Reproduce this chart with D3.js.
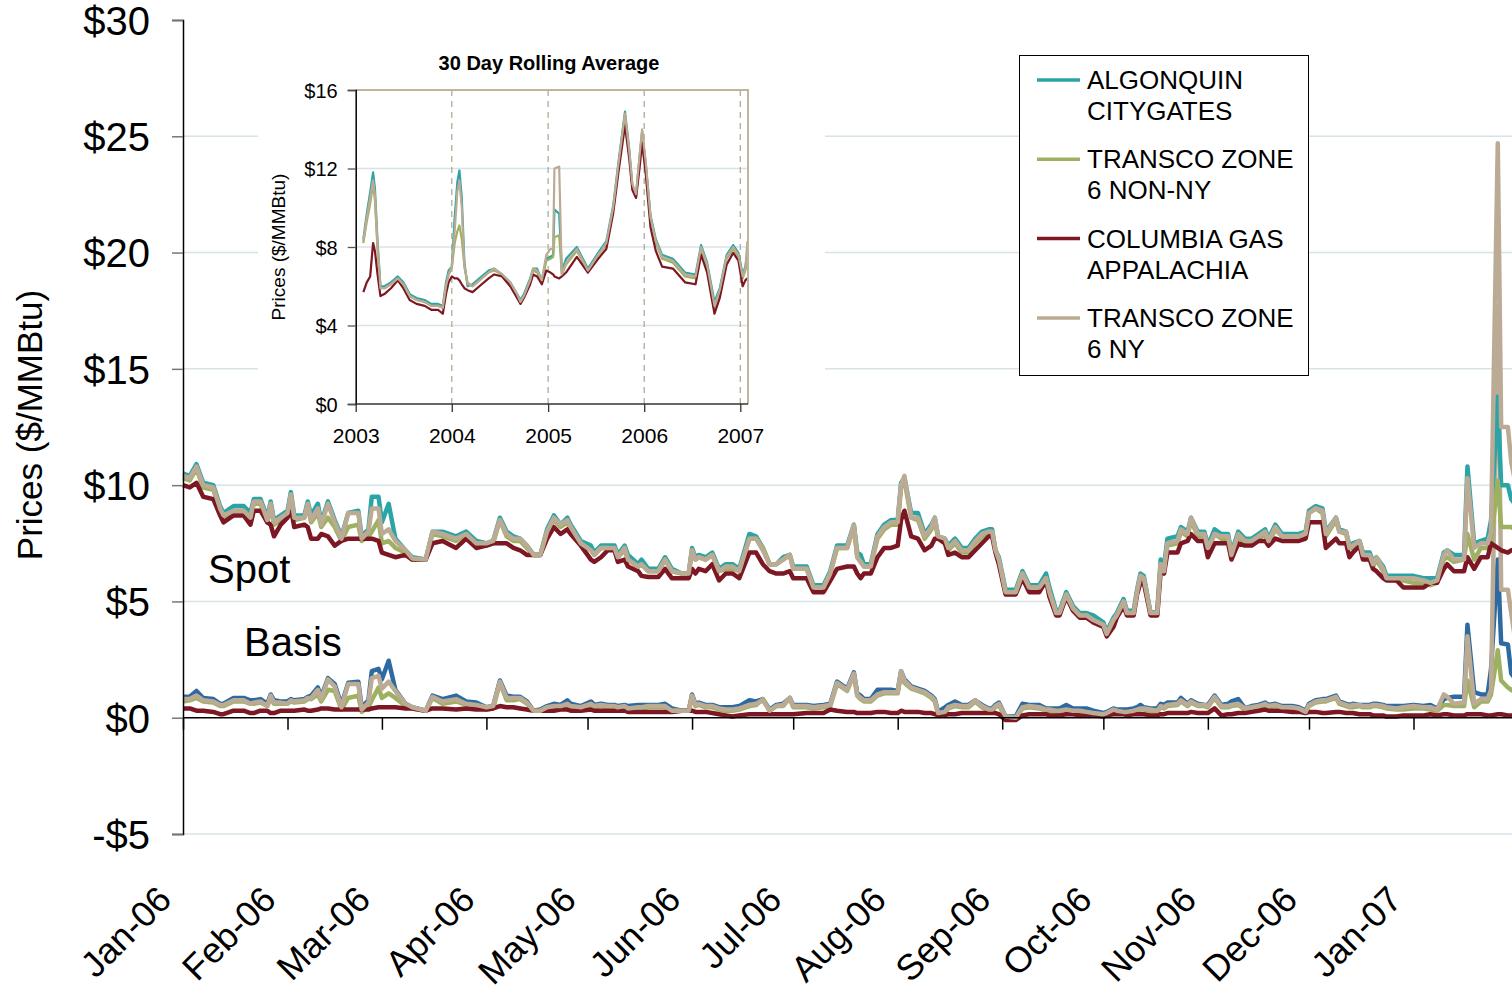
<!DOCTYPE html>
<html>
<head>
<meta charset="utf-8">
<script src="https://cdn.jsdelivr.net/npm/d3@7"></script>
<style>
  body { margin: 0; background: #fff; }
  text { font-family: Arial, "Liberation Sans", sans-serif; }
</style>
</head>
<body>
<svg id="chart" width="1512" height="995"></svg>
<script>
// ---- main chart data: days since 2006-01-01, daily prices in $/MMBtu ----
var dayOffsets = [
  0,2,4,6,9,11,12,15,18,20,21,23,25,26,27,29,
  31,32,33,36,37,38,40,41,43,45,47,49,52,53,55,56,58,
  59,61,63,66,68,72,74,77,81,84,87,
  90,92,94,96,98,100,102,104,106,108,110,112,114,115,118,
  121,122,124,126,128,129,131,132,135,136,138,141,143,145,148,150,
  151,152,153,155,157,159,161,163,165,168,170,172,174,176,178,180,
  181,185,187,190,192,194,197,199,200,201,202,204,206,208,210,
  212,213,214,216,218,220,222,223,224,226,227,229,231,233,235,237,239,240,241,242,
  244,247,249,251,254,256,257,259,260,262,264,266,268,270,
  273,274,276,277,279,280,282,283,284,285,287,289,290,291,292,295,296,298,299,301,303,
  304,306,308,310,311,313,315,317,319,321,322,324,326,329,331,333,
  334,336,338,339,342,343,345,346,347,349,350,352,353,354,356,357,360,362,
  365,368,370,372,374,375,377,380,381,383,385,387,388,390,391,393,394,396
]

var algonquinSpot = [
  10.5,10.4,10.9,10.1,10.0,9.1,8.8,9.1,9.1,8.8,9.4,9.4,8.6,9.3,8.5,8.7,
  8.9,9.7,8.7,8.7,9.3,8.7,9.2,8.4,9.3,8.5,7.8,8.8,8.9,7.8,8.1,9.5,9.5,
  8.4,9.2,7.7,7.2,6.9,6.8,8.0,8.0,7.8,8.0,7.6,
  7.5,7.6,8.6,8.0,7.8,7.7,7.4,7.0,7.0,8.1,8.7,8.3,8.6,8.3,7.6,
  7.4,7.1,7.4,7.4,7.4,7.0,7.4,7.0,6.6,6.8,6.4,6.4,6.9,6.4,6.2,6.2,
  7.3,6.9,7.0,6.9,7.1,6.4,6.6,6.6,6.4,7.9,7.8,7.3,6.6,6.6,6.9,7.0,
  6.5,6.5,5.7,5.7,6.3,7.4,7.4,8.3,7.1,7.0,6.6,6.6,7.9,8.3,8.5,
  8.5,10.1,10.3,8.8,8.8,7.9,8.3,8.6,7.8,7.7,7.4,7.7,7.3,7.3,7.7,8.0,8.1,8.1,7.2,6.9,
  5.5,5.5,6.3,5.7,5.7,6.2,5.6,4.6,4.6,5.4,4.8,4.5,4.5,4.4,
  4.1,3.7,4.3,4.5,5.1,4.6,4.6,5.5,6.2,6.1,4.5,4.6,6.8,6.5,7.7,7.8,8.2,8.0,8.6,8.0,8.0,
  7.4,8.1,7.9,7.9,7.1,8.0,7.7,7.7,7.9,8.1,7.7,8.3,7.9,7.9,7.9,8.0,
  8.9,9.1,9.0,8.0,8.6,8.1,8.0,7.4,7.5,7.6,7.1,7.1,6.7,6.9,6.5,6.1,6.1,6.1,
  6.1,6.0,6.0,6.0,7.1,7.2,7.0,7.0,10.8,7.5,7.6,7.7,8.5,13.8,10.0,10.0,9.4,9.0
]
var nonNYSpot = [
  10.3,10.2,10.7,9.9,9.8,8.9,8.6,8.9,8.9,8.6,9.2,9.2,8.4,9.1,8.3,8.5,
  8.7,9.5,8.5,8.6,9.1,8.4,8.8,8.2,8.6,8.2,7.6,8.2,8.3,7.6,7.8,8.0,8.5,
  7.5,7.6,7.3,7.1,6.8,6.8,7.9,7.8,7.6,7.9,7.4,
  7.4,7.5,8.5,7.8,7.6,7.6,7.3,7.0,7.0,8.0,8.5,8.2,8.4,8.1,7.5,
  7.2,7.0,7.3,7.3,7.2,6.9,7.2,6.8,6.5,6.6,6.3,6.3,6.8,6.3,6.2,6.2,
  7.2,6.8,6.9,6.8,7.0,6.3,6.4,6.4,6.3,7.7,7.7,7.3,6.6,6.6,6.8,7.0,
  6.4,6.4,5.6,5.6,6.2,7.3,7.3,8.2,6.9,6.7,6.5,6.5,7.7,8.1,8.3,
  8.3,9.9,10.2,8.6,8.5,7.7,8.1,8.5,7.7,7.6,7.2,7.5,7.1,7.1,7.5,7.8,8.0,8.0,7.2,6.8,
  5.4,5.4,6.2,5.6,5.6,6.0,5.4,4.5,4.5,5.3,4.7,4.4,4.4,4.2,
  4.0,3.6,4.2,4.4,5.0,4.5,4.5,5.4,6.1,6.0,4.5,4.5,6.6,6.3,7.4,7.5,8.0,7.8,8.5,7.8,7.8,
  7.2,7.9,7.7,7.7,7.0,7.8,7.5,7.5,7.7,7.9,7.5,8.1,7.8,7.8,7.8,7.9,
  8.8,9.0,8.8,7.8,8.5,8.0,7.9,7.3,7.3,7.5,7.0,6.9,6.5,6.8,6.3,6.0,5.9,5.9,
  5.8,5.8,5.7,5.8,6.8,6.9,6.7,6.8,7.9,6.8,7.3,7.3,7.6,10.2,8.2,8.2,8.2,8.0
]
var columbiaSpot = [
  10.0,9.9,10.1,9.5,9.4,8.7,8.4,8.7,8.7,8.3,8.9,8.9,8.4,8.3,7.8,8.3,
  8.6,9.0,8.2,8.3,8.2,7.7,7.7,7.9,7.8,7.4,7.6,7.7,7.7,7.7,7.7,7.7,7.6,
  7.1,7.0,6.9,7.0,6.8,6.8,7.5,7.6,7.3,7.7,7.3,
  7.4,7.5,7.5,7.5,7.3,7.2,7.0,7.0,7.0,7.7,8.2,7.9,8.1,7.9,7.4,
  6.8,6.7,6.9,7.2,7.2,6.7,6.8,6.5,6.3,6.1,6.05,6.05,6.4,6.0,6.0,6.0,
  6.4,6.2,6.4,6.3,6.6,5.9,6.2,6.2,6.0,7.1,7.1,6.6,6.3,6.2,6.2,6.3,
  6.0,6.0,5.4,5.4,5.9,6.4,6.5,6.5,6.2,6.0,6.2,6.2,6.9,7.3,7.3,
  7.4,8.5,8.9,7.8,7.7,7.2,7.4,7.7,7.7,7.5,7.0,7.1,6.9,6.9,7.2,7.5,7.8,7.8,7.1,6.6,
  5.3,5.3,6.0,5.4,5.4,5.9,5.2,4.4,4.4,5.2,4.6,4.3,4.3,4.1,
  3.9,3.5,3.9,4.3,4.8,4.4,4.4,5.3,5.8,5.8,4.4,4.4,6.3,6.2,7.1,7.1,7.5,7.6,7.9,7.6,7.6,
  6.9,7.5,7.5,7.5,6.8,7.5,7.4,7.4,7.6,7.6,7.4,7.7,7.6,7.6,7.6,7.7,
  8.4,8.4,8.4,7.3,7.7,7.5,7.5,6.9,7.1,7.4,6.8,6.8,6.4,6.3,6.0,5.9,5.9,5.6,
  5.6,5.6,5.8,5.8,6.4,6.6,6.3,6.3,6.9,6.4,6.9,6.9,7.5,7.3,7.2,7.1,7.2,7.3
]
var nySpot = [
  10.4,10.3,10.8,10.0,9.9,9.0,8.7,8.9,8.9,8.6,9.3,9.3,8.5,9.2,8.4,8.6,
  8.8,9.6,8.6,8.6,9.2,8.5,9.0,8.3,9.2,8.4,7.7,8.8,8.8,7.7,8.0,9.0,9.0,
  7.9,8.1,7.6,7.2,6.85,6.8,8.0,7.9,7.7,7.9,7.5,
  7.5,7.6,8.5,7.9,7.7,7.7,7.4,7.0,7.0,8.0,8.6,8.3,8.5,8.2,7.5,
  7.2,7.0,7.3,7.3,7.3,6.9,7.3,6.8,6.5,6.6,6.3,6.3,6.8,6.3,6.2,6.2,
  7.2,6.8,6.9,6.8,7.0,6.3,6.5,6.5,6.3,7.7,7.7,7.2,6.6,6.6,6.8,7.0,
  6.4,6.4,5.6,5.6,6.2,7.3,7.3,8.3,6.9,6.7,6.5,6.5,7.8,8.2,8.4,
  8.4,10.0,10.4,8.6,8.6,7.8,8.2,8.6,7.8,7.7,7.3,7.6,7.2,7.2,7.6,7.9,8.0,8.0,7.2,6.8,
  5.4,5.4,6.2,5.6,5.6,6.0,5.4,4.5,4.5,5.3,4.7,4.4,4.4,4.2,
  4.0,3.6,4.2,4.4,5.0,4.5,4.5,5.4,6.1,6.0,4.5,4.5,6.6,6.3,7.5,7.6,8.1,7.9,8.6,7.9,7.9,
  7.3,7.9,7.8,7.8,7.0,7.9,7.6,7.6,7.8,8.0,7.6,8.2,7.8,7.8,7.8,7.9,
  8.8,9.0,8.9,7.9,8.6,8.0,8.0,7.3,7.4,7.6,7.0,7.0,6.6,6.9,6.4,6.0,6.0,6.0,
  6.0,5.9,5.8,5.9,7.0,7.2,6.8,6.8,10.3,7.3,7.5,7.5,8.0,24.7,12.5,12.5,11.0,9.5
]

var algonquinBasis = [
  0.9,0.9,1.15,0.85,0.8,0.6,0.6,0.85,0.85,0.75,0.75,0.8,0.6,1.0,0.75,0.7,
  0.7,0.8,0.75,0.8,0.9,0.95,1.3,0.9,1.7,1.45,0.55,1.5,1.55,0.45,0.75,2.0,2.1,
  1.65,2.45,1.2,0.6,0.45,0.3,0.95,0.8,0.95,0.7,0.65,
  0.45,0.5,1.6,0.95,0.9,0.9,0.7,0.3,0.35,0.5,0.6,0.55,0.75,0.6,0.5,
  0.7,0.55,0.6,0.55,0.55,0.5,0.55,0.5,0.55,0.55,0.55,0.55,0.6,0.4,0.3,0.3,
  1.0,0.6,0.65,0.55,0.55,0.45,0.45,0.45,0.5,0.75,0.7,0.8,0.35,0.55,0.6,0.85,
  0.55,0.55,0.5,0.55,0.6,1.55,1.25,1.95,1.05,0.95,0.8,0.8,1.2,1.2,1.2,
  1.15,2.0,1.65,1.35,1.25,1.15,0.95,0.8,0.25,0.45,0.55,0.7,0.55,0.55,0.75,0.55,0.4,0.4,0.55,0.65,
  0.05,0.05,0.6,0.55,0.55,0.4,0.4,0.4,0.4,0.55,0.4,0.4,0.4,0.3,
  0.2,0.25,0.4,0.35,0.35,0.35,0.4,0.45,0.55,0.45,0.4,0.4,0.6,0.55,0.65,0.65,0.85,0.6,0.75,0.6,0.55,
  0.55,0.95,0.55,0.6,0.7,0.8,0.4,0.5,0.55,0.65,0.55,0.6,0.5,0.5,0.45,0.3,
  0.6,0.75,0.8,0.8,0.95,0.7,0.6,0.55,0.6,0.55,0.55,0.55,0.6,0.6,0.55,0.5,0.5,0.5,
  0.55,0.5,0.55,0.4,0.8,0.85,0.9,0.9,4.0,1.1,1.0,1.0,2.1,6.8,3.2,3.15,1.9,1.5
]
var nonNYBasis = [
  0.7,0.75,0.85,0.7,0.65,0.5,0.5,0.7,0.7,0.6,0.6,0.65,0.5,0.85,0.6,0.6,
  0.6,0.7,0.65,0.7,0.8,0.8,1.0,0.7,1.2,1.15,0.35,0.85,0.95,0.25,0.45,0.75,1.3,
  0.85,1.05,0.85,0.5,0.4,0.3,0.85,0.6,0.7,0.55,0.45,
  0.35,0.4,1.5,0.75,0.75,0.8,0.6,0.3,0.3,0.45,0.45,0.45,0.55,0.45,0.4,
  0.55,0.45,0.5,0.45,0.45,0.4,0.45,0.35,0.4,0.4,0.45,0.45,0.45,0.3,0.3,0.3,
  0.9,0.5,0.55,0.45,0.45,0.35,0.3,0.3,0.35,0.5,0.55,0.8,0.3,0.5,0.5,0.85,
  0.45,0.45,0.4,0.45,0.5,1.45,1.15,1.85,0.95,0.8,0.7,0.7,0.95,1.05,1.05,
  1.05,1.9,1.5,1.25,1.15,1.05,0.85,0.7,0.15,0.2,0.4,0.5,0.45,0.45,0.7,0.45,0.3,0.3,0.45,0.55,
  0.0,-0.05,0.4,0.45,0.4,0.3,0.3,0.25,0.25,0.3,0.25,0.25,0.2,0.15,
  0.1,0.15,0.3,0.25,0.2,0.2,0.25,0.3,0.35,0.35,0.3,0.25,0.45,0.4,0.5,0.55,0.7,0.5,0.65,0.5,0.5,
  0.45,0.85,0.45,0.45,0.5,0.55,0.35,0.4,0.45,0.55,0.45,0.5,0.4,0.4,0.4,0.25,
  0.5,0.65,0.7,0.7,0.85,0.6,0.5,0.45,0.45,0.5,0.45,0.45,0.5,0.5,0.45,0.4,0.35,0.35,
  0.4,0.4,0.35,0.3,0.55,0.55,0.5,0.5,1.6,0.45,0.7,0.7,1.0,2.9,1.6,1.3,1.2,1.0
]
var columbiaBasis = [
  0.4,0.4,0.3,0.3,0.25,0.15,0.15,0.3,0.3,0.2,0.2,0.3,0.3,0.2,0.2,0.3,
  0.3,0.3,0.3,0.35,0.3,0.3,0.35,0.4,0.4,0.35,0.35,0.35,0.35,0.35,0.35,0.4,0.45,
  0.45,0.45,0.45,0.4,0.4,0.3,0.4,0.4,0.35,0.4,0.35,
  0.35,0.4,0.5,0.45,0.45,0.4,0.35,0.3,0.3,0.3,0.3,0.35,0.35,0.3,0.3,
  0.35,0.3,0.3,0.3,0.3,0.3,0.3,0.25,0.25,0.25,0.25,0.25,0.25,0.25,0.3,0.3,
  0.3,0.25,0.25,0.25,0.2,0.15,0.1,0.05,0.1,0.15,0.15,0.15,0.15,0.15,0.15,0.15,
  0.15,0.2,0.2,0.2,0.35,0.3,0.25,0.25,0.2,0.2,0.2,0.2,0.25,0.25,0.2,
  0.2,0.3,0.25,0.25,0.25,0.2,0.2,0.15,0.1,0.1,0.15,0.15,0.2,0.2,0.2,0.2,0.2,0.2,0.2,0.15,
  -0.1,-0.1,0.1,0.15,0.15,0.15,0.1,0.1,0.1,0.15,0.15,0.1,0.1,0.1,
  0.05,0.1,0.15,0.15,0.15,0.1,0.15,0.15,0.15,0.15,0.1,0.1,0.15,0.15,0.2,0.2,0.2,0.2,0.25,0.2,0.2,
  0.2,0.4,0.1,0.15,0.15,0.2,0.2,0.25,0.3,0.35,0.3,0.3,0.3,0.25,0.25,0.2,
  0.25,0.25,0.2,0.2,0.25,0.25,0.2,0.2,0.2,0.15,0.15,0.15,0.1,0.1,0.1,0.05,0.05,0.1,
  0.1,0.1,0.15,0.1,0.15,0.15,0.1,0.1,0.15,0.15,0.15,0.1,0.1,0.15,0.15,0.1,0.1,0.1
]
var nyBasis = [
  0.8,0.8,0.95,0.75,0.7,0.55,0.55,0.75,0.75,0.6,0.65,0.7,0.5,0.95,0.65,0.65,
  0.6,0.75,0.7,0.75,0.85,0.85,1.2,0.8,1.65,1.35,0.45,1.45,1.45,0.35,0.65,1.7,1.8,
  1.25,1.55,1.15,0.6,0.45,0.3,0.9,0.7,0.8,0.6,0.55,
  0.45,0.5,1.55,0.85,0.85,0.85,0.65,0.3,0.3,0.45,0.5,0.5,0.6,0.5,0.45,
  0.6,0.5,0.55,0.5,0.5,0.45,0.5,0.4,0.45,0.45,0.5,0.5,0.5,0.3,0.3,0.3,
  0.95,0.55,0.6,0.5,0.5,0.4,0.35,0.35,0.4,0.55,0.6,0.75,0.3,0.5,0.55,0.85,
  0.5,0.5,0.45,0.5,0.55,1.5,1.2,1.9,1.0,0.85,0.75,0.75,1.0,1.1,1.1,
  1.1,2.0,1.6,1.3,1.2,1.1,0.9,0.75,0.2,0.25,0.45,0.55,0.5,0.5,0.75,0.5,0.35,0.35,0.5,0.6,
  0.05,0.0,0.45,0.5,0.45,0.35,0.35,0.3,0.3,0.35,0.3,0.3,0.25,0.2,
  0.15,0.2,0.35,0.3,0.25,0.25,0.3,0.35,0.4,0.4,0.35,0.3,0.5,0.45,0.55,0.6,0.75,0.55,0.7,0.55,0.55,
  0.5,0.9,0.5,0.5,0.55,0.6,0.4,0.45,0.5,0.6,0.5,0.55,0.45,0.45,0.4,0.25,
  0.55,0.7,0.75,0.75,0.9,0.65,0.55,0.5,0.55,0.55,0.5,0.5,0.55,0.55,0.5,0.45,0.4,0.45,
  0.5,0.45,0.45,0.35,1.0,0.9,0.6,0.65,3.5,0.6,0.8,0.8,1.2,17.7,5.5,5.5,4.5,2.5
]

// ---- inset: 30 day rolling average ----
var insetDates = [
  "2003-01-30","2003-02-12","2003-02-25","2003-03-08","2003-03-15","2003-03-25","2003-04-05","2003-04-20",
  "2003-05-15","2003-06-10","2003-07-01","2003-07-25","2003-08-20","2003-09-20","2003-10-15","2003-11-10",
  "2003-11-28","2003-12-10","2003-12-20","2004-01-01","2004-01-12","2004-01-22","2004-01-30","2004-02-08",
  "2004-02-18","2004-03-01","2004-03-20","2004-04-15","2004-05-20","2004-06-10","2004-07-10","2004-08-10",
  "2004-09-05","2004-09-18","2004-10-01","2004-10-25","2004-11-05","2004-11-20","2004-12-08","2004-12-25",
  "2005-01-10","2005-01-20","2005-01-25","2005-02-12","2005-02-22","2005-03-10","2005-04-20","2005-06-01",
  "2005-07-10","2005-08-10","2005-09-05","2005-09-25","2005-10-20","2005-11-05","2005-11-17","2005-12-01",
  "2005-12-14","2005-12-24","2006-01-07","2006-01-25","2006-02-14","2006-03-10","2006-04-20","2006-06-05",
  "2006-07-15","2006-08-05","2006-08-28","2006-09-25","2006-10-15","2006-11-10","2006-12-05","2006-12-25",
  "2007-01-10","2007-01-20","2007-01-28"
]
var insetAlgonquin = [
  8.4,9.7,10.8,11.8,11.0,8.3,6.0,6.0,6.2,6.5,6.2,5.6,5.4,5.3,5.1,5.1,
  5.0,6.2,6.8,7.0,9.5,11.3,11.9,10.5,7.2,6.0,6.1,6.4,6.8,6.9,6.6,6.2,
  5.6,5.3,5.6,6.4,6.9,6.9,6.3,7.4,7.5,7.6,9.9,9.7,6.8,7.4,8.0,6.9,
  7.7,8.3,10.1,12.3,14.9,13.0,11.1,10.6,12.5,13.8,12.2,9.6,8.4,7.6,7.4,6.7,
  6.6,8.1,7.2,5.2,5.9,7.6,8.1,7.7,6.6,7.0,7.6
]
var insetNonNY = [
  8.2,9.3,10.2,11.2,10.4,7.9,5.9,5.9,6.1,6.4,6.1,5.5,5.3,5.2,5.0,5.0,
  4.9,6.0,6.6,6.9,8.2,8.8,9.1,8.4,7.0,6.1,6.0,6.3,6.7,6.8,6.6,6.1,
  5.5,5.2,5.5,6.3,6.8,6.7,6.2,7.3,7.4,7.5,8.5,8.6,6.6,7.1,7.8,6.8,
  7.6,8.1,9.9,12.1,14.7,12.8,11.1,10.7,12.5,13.9,12.2,9.4,8.2,7.4,7.2,6.5,
  6.4,7.9,7.0,4.9,5.7,7.4,7.9,7.5,6.4,6.8,7.2
]
var insetColumbia = [
  5.7,6.2,6.5,8.2,7.8,6.6,5.5,5.6,5.9,6.3,5.9,5.3,5.1,5.0,4.8,4.8,
  4.6,5.6,6.2,6.5,6.4,6.4,6.3,6.1,5.9,5.8,5.7,6.0,6.4,6.6,6.5,6.0,
  5.4,5.1,5.4,6.1,6.6,6.5,6.1,6.8,6.7,6.6,6.5,6.4,6.5,6.7,7.5,6.7,
  7.4,7.9,9.7,11.8,14.2,12.5,10.9,10.5,12.0,13.3,11.7,9.0,7.8,7.0,6.9,6.2,
  6.1,7.6,6.7,4.6,5.4,7.1,7.7,7.3,6.0,6.3,6.4
]
var insetNY = [
  8.3,9.5,10.5,11.4,10.6,8.0,5.9,5.9,6.1,6.4,6.1,5.5,5.3,5.2,5.0,5.0,
  4.9,6.0,6.6,7.0,8.8,10.8,11.4,10.0,7.0,6.2,6.0,6.3,6.7,6.9,6.6,6.2,
  5.6,5.2,5.5,6.3,6.9,6.8,6.3,7.6,7.9,7.9,12.0,12.1,6.6,7.2,7.9,6.8,
  7.6,8.2,10.0,12.2,14.8,12.9,11.2,10.7,12.6,14.0,12.3,9.5,8.3,7.5,7.3,6.6,
  6.5,8.0,7.1,5.0,5.8,7.5,8.0,7.6,6.5,6.9,8.3
]

var yTicks = [-5, 0, 5, 10, 15, 20, 25, 30]
var insetYTicks = [0, 4, 8, 12, 16]
var insetYears = [2003, 2004, 2005, 2006, 2007]
var legendLabels = [
  ["ALGONQUIN", "CITYGATES"],
  ["TRANSCO ZONE", "6 NON-NY"],
  ["COLUMBIA GAS", "APPALACHIA"],
  ["TRANSCO ZONE", "6 NY"]
]

var TEAL = "#2aa4a7", GREEN = "#9db160", RED = "#7c1723", TAN = "#bcab94", BLUE = "#2d6aa1"
var GRID = "#d8e3e7"

var svg = d3.select("#chart")

var start = new Date(2006, 0, 1)
var dates = dayOffsets.map(function(d) { return d3.timeDay.offset(start, d) })

var x = d3.scaleTime().domain([start, new Date(2007, 0, 1)]).range([183, 1413.5])
var y = d3.scaleLinear().domain([-5, 30]).range([834, 20])

/* gridlines */
svg.append("g").selectAll("line")
  .data(yTicks.filter(function(v) { return v != 0 && v != 30 }))
  .enter().append("line")
  .attr("x1", 183).attr("x2", 1512)
  .attr("y1", function(v) { return y(v) }).attr("y2", function(v) { return y(v) })
  .style("stroke", GRID).style("stroke-width", 1.5)

// white chart-object background that hides the gridlines behind the inset
svg.append("rect").attr("x", 258).attr("y", 30).attr("width", 567).attr("height", 430).style("fill", "#fff")

var line = d3.line()
  .defined(function(d) { return d.v != null })
  .x(function(d) { return x(d.date) })
  .y(function(d) { return y(d.v) })

function pts(vals) {
  return dates.map(function(dt, i) { return { date: dt, v: vals[i] } })
}

var basisSeries = [
  { vals: algonquinBasis, color: BLUE },
  { vals: nonNYBasis, color: GREEN },
  { vals: columbiaBasis, color: RED },
  { vals: nyBasis, color: TAN }
]
var spotSeries = [
  { vals: algonquinSpot, color: TEAL },
  { vals: nonNYSpot, color: GREEN },
  { vals: columbiaSpot, color: RED },
  { vals: nySpot, color: TAN }
]

svg.append("g").selectAll("path")
  .data(basisSeries.concat(spotSeries))
  .enter().append("path")
  .attr("d", function(s) { return line(pts(s.vals)) })
  .style("fill", "none")
  .style("stroke", function(s) { return s.color })
  .style("stroke-width", 4.5)
  .style("stroke-linejoin", "round")

/* y axis */
var yAxis = svg.append("g")
  .attr("transform", "translate(183,0)")
  .call(d3.axisLeft(y).tickValues(yTicks).tickSize(11).tickPadding(22)
    .tickFormat(function(v) { return v < 0 ? "-$" + (-v) : "$" + v }))
yAxis.select(".domain").style("stroke", "#000").style("stroke-width", 1.5)
yAxis.selectAll(".tick line").style("stroke", "#777").style("stroke-width", 1.5)
yAxis.selectAll(".tick text").style("font-size", "40px").style("fill", "#000")
  .attr("dy", "0.36em")

/* x axis along zero line */
svg.append("line")
  .attr("x1", 183).attr("x2", 1512).attr("y1", y(0)).attr("y2", y(0))
  .style("stroke", "#000").style("stroke-width", 1.5)

var xAxis = svg.append("g")
  .attr("transform", "translate(0," + y(0) + ")")
  .call(d3.axisBottom(x).ticks(d3.timeMonth.every(1)).tickSize(12)
    .tickFormat(d3.timeFormat("%b-%y")))
xAxis.select(".domain").remove()
xAxis.selectAll(".tick line").style("stroke", "#000").style("stroke-width", 1.5)
xAxis.selectAll(".tick text")
  .attr("x", 0).attr("y", 0).attr("dy", 0)
  .attr("text-anchor", "end")
  .attr("transform", "translate(-10,184) rotate(-45)")
  .style("font-size", "36px").style("fill", "#000")

svg.append("text")
  .attr("transform", "translate(42,425) rotate(-90)")
  .attr("text-anchor", "middle")
  .style("font-size", "35px")
  .text("Prices ($/MMBtu)")

svg.append("text").attr("x", 208).attr("y", 583).style("font-size", "40px").text("Spot")
svg.append("text").attr("x", 244).attr("y", 656).style("font-size", "40px").text("Basis")

/* legend */
var legend = svg.append("g")
legend.append("rect")
  .attr("x", 1019.5).attr("y", 55.5).attr("width", 289).attr("height", 320)
  .style("fill", "#fff").style("stroke", "#000").style("stroke-width", 1)
var legendColors = [TEAL, GREEN, RED, TAN]
legendLabels.forEach(function(lines, i) {
  var ly = 80 + i * 79.3
  legend.append("line")
    .attr("x1", 1037).attr("x2", 1080).attr("y1", ly).attr("y2", ly)
    .style("stroke", legendColors[i]).style("stroke-width", 3.5)
  lines.forEach(function(t, j) {
    legend.append("text")
      .attr("x", 1087).attr("y", ly + 9 + j * 31)
      .style("font-size", "26px")
      .text(t)
  })
})

/* ---------- inset chart ---------- */
var parse = d3.timeParse("%Y-%m-%d")
var iDates = insetDates.map(parse)
var ix = d3.scaleTime().domain([new Date(2003, 0, 1), new Date(2007, 0, 1)]).range([355.7, 740.3])
var iy = d3.scaleLinear().domain([0, 16]).range([404, 90])
var iRight = 748

var inset = svg.append("g")

inset.append("text")
  .attr("x", 549).attr("y", 70)
  .attr("text-anchor", "middle")
  .style("font-size", "20px").style("font-weight", "bold")
  .text("30 Day Rolling Average")

inset.append("g").selectAll("line")
  .data([4, 8, 12])
  .enter().append("line")
  .attr("x1", ix.range()[0]).attr("x2", iRight)
  .attr("y1", function(v) { return iy(v) }).attr("y2", function(v) { return iy(v) })
  .style("stroke", GRID).style("stroke-width", 1.5)

inset.append("g").selectAll("line")
  .data(insetYears.slice(1))
  .enter().append("line")
  .attr("x1", function(yr) { return ix(new Date(yr, 0, 1)) })
  .attr("x2", function(yr) { return ix(new Date(yr, 0, 1)) })
  .attr("y1", iy(16)).attr("y2", iy(0))
  .style("stroke", "#aeae98").style("stroke-width", 1.3)
  .style("stroke-dasharray", "6,5")

var iline = d3.line()
  .x(function(d) { return ix(d.date) })
  .y(function(d) { return iy(d.v) })

var insetSeries = [
  { vals: insetAlgonquin, color: TEAL },
  { vals: insetNonNY, color: GREEN },
  { vals: insetColumbia, color: RED },
  { vals: insetNY, color: TAN }
]
inset.append("g").selectAll("path")
  .data(insetSeries)
  .enter().append("path")
  .attr("d", function(s) {
    return iline(iDates.map(function(dt, i) { return { date: dt, v: s.vals[i] } }))
  })
  .style("fill", "none")
  .style("stroke", function(s) { return s.color })
  .style("stroke-width", 2.2)
  .style("stroke-linejoin", "round")

// plot frame (top and right edges)
inset.append("path")
  .attr("d", "M" + ix.range()[0] + "," + iy(16) + "H" + iRight + "V" + iy(0))
  .style("fill", "none").style("stroke", "#c2b39d").style("stroke-width", 2)

var iyAxis = inset.append("g")
  .attr("transform", "translate(" + ix.range()[0] + ",0)")
  .call(d3.axisLeft(iy).tickValues(insetYTicks).tickSize(8).tickPadding(10)
    .tickFormat(function(v) { return "$" + v }))
iyAxis.select(".domain").style("stroke", "#000").style("stroke-width", 1.5)
iyAxis.selectAll(".tick line").style("stroke", "#555").style("stroke-width", 1.3)
iyAxis.selectAll(".tick text").style("font-size", "20px").style("fill", "#000").attr("dy", "0.36em")

var ixAxis = inset.append("g")
  .attr("transform", "translate(0," + iy(0) + ")")
  .call(d3.axisBottom(ix).tickValues(insetYears.map(function(yr) { return new Date(yr, 0, 1) }))
    .tickSize(8).tickPadding(16).tickFormat(d3.timeFormat("%Y")))
ixAxis.select(".domain").remove()
inset.append("line")
  .attr("x1", ix.range()[0]).attr("x2", iRight).attr("y1", iy(0)).attr("y2", iy(0))
  .style("stroke", "#333").style("stroke-width", 1.5)
ixAxis.selectAll(".tick line").style("stroke", "#333").style("stroke-width", 1.3)
ixAxis.selectAll(".tick text").style("font-size", "21px").style("fill", "#000")

inset.append("text")
  .attr("transform", "translate(285,247) rotate(-90)")
  .attr("text-anchor", "middle")
  .style("font-size", "19px")
  .text("Prices ($/MMBtu)")
</script>
</body>
</html>
